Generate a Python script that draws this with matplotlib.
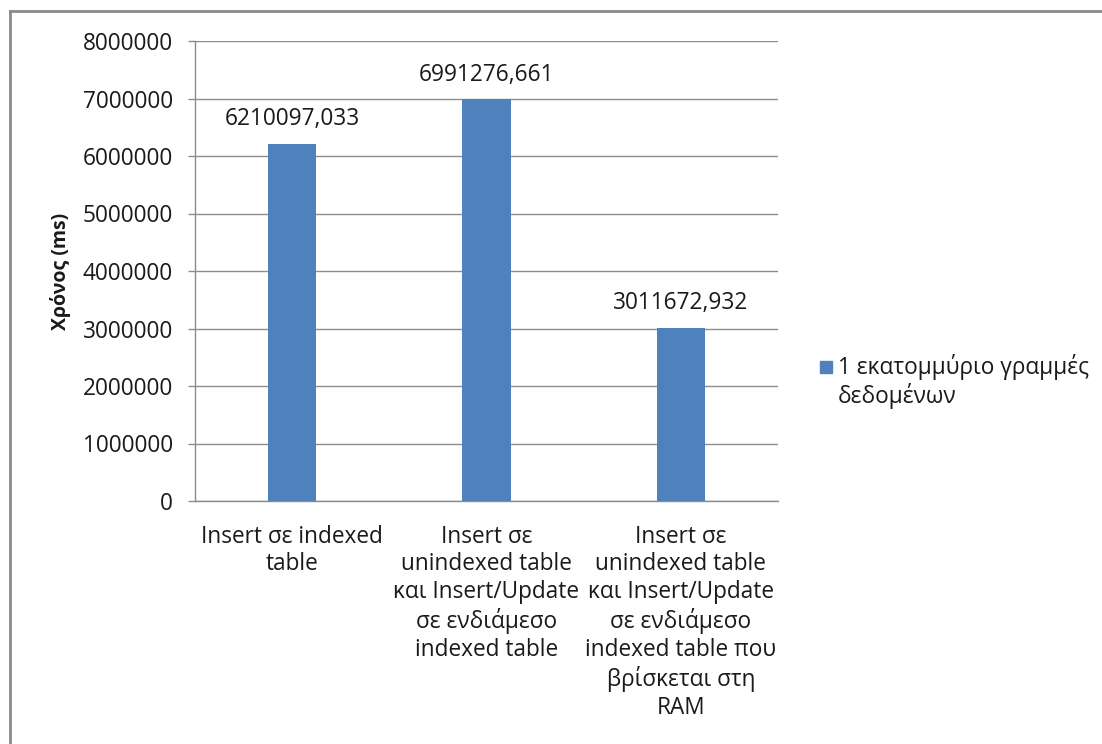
import matplotlib
matplotlib.use("Agg")
import matplotlib.pyplot as plt
from matplotlib.lines import Line2D
from matplotlib.ticker import FixedLocator, FuncFormatter

plt.rcParams['font.family'] = ['Open Sans', 'DejaVu Sans']

categories = [
    "Insert σε indexed\ntable",
    "Insert σε\nunindexed table\nκαι Insert/Update\nσε ενδιάμεσο\nindexed table",
    "Insert σε\nunindexed table\nκαι Insert/Update\nσε ενδιάμεσο\nindexed table που\nβρίσκεται στη\nRAM",
]
values = [6210097.033, 6991276.661, 3011672.932]
value_labels = ["6210097,033", "6991276,661", "3011672,932"]
series_name = ["1 εκατομμύριο γραμμές", "δεδομένων"]
y_ticks = [0, 1000000, 2000000, 3000000, 4000000, 5000000, 6000000, 7000000, 8000000]

bar_color = "#4F81BD"
grid_color = "#8C8C8C"
text_color = "#1A1A1A"
fs = 16.3

W, H = 1102, 744
fig = plt.figure(figsize=(W / 100, H / 100), dpi=100)
ax = fig.add_axes([195 / W, 1 - 501 / H, (778 - 195) / W, (501 - 41) / H])

x = list(range(len(categories)))
ax.bar(x, values, width=0.25, color=bar_color, zorder=3)
ax.set_xlim(-0.5, len(categories) - 0.5)
ax.set_ylim(0, 8000000)

for xi, v, lab in zip(x, values, value_labels):
    ax.annotate(lab, (xi, v), xytext=(0, 9), textcoords="offset points",
                ha="center", va="bottom", fontsize=fs, color=text_color)

ax.yaxis.set_major_locator(FixedLocator(y_ticks))
ax.yaxis.set_major_formatter(FuncFormatter(lambda v, p: f"{int(v)}"))
ax.grid(axis="y", color=grid_color, linewidth=1, zorder=0)
ax.tick_params(axis="y", direction="out", length=5, width=1, color=grid_color,
               labelsize=fs, labelcolor=text_color, pad=11)
ax.set_xticks(x)
ax.set_xticklabels(categories, fontsize=fs, color=text_color, linespacing=1.21, va="top")
ax.tick_params(axis="x", length=0, pad=17)

for s in ["top", "right"]:
    ax.spines[s].set_visible(False)
for s in ["left", "bottom"]:
    ax.spines[s].set_color(grid_color)
    ax.spines[s].set_linewidth(1)

ax.set_ylabel("Χρόνος (ms)", fontsize=14, fontweight="bold", color=text_color, labelpad=8)

# legend on the right
fig.patches.append(plt.Rectangle((820 / W, 1 - 373 / H), 12 / W, 12 / H,
                                 transform=fig.transFigure, color=bar_color))
fig.text(838 / W, 1 - 367 / H, series_name[0], fontsize=fs,
         color=text_color, ha="left", va="center")
fig.text(838 / W, 1 - 396 / H, series_name[1], fontsize=fs,
         color=text_color, ha="left", va="center")

# chart frame
fig.add_artist(Line2D([10 / W, 1.0], [1 - 11 / H, 1 - 11 / H], transform=fig.transFigure,
                      color="#8A8A8A", linewidth=2))
fig.add_artist(Line2D([10 / W, 10 / W], [1 - 11 / H, 0], transform=fig.transFigure,
                      color="#8A8A8A", linewidth=2))

fig.savefig("out.png", dpi=100, facecolor="white")
